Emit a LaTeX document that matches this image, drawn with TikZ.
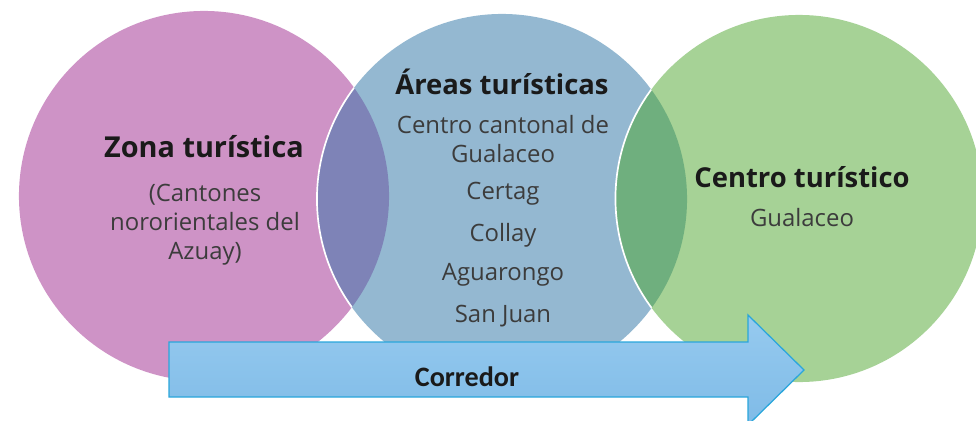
\documentclass[tikz,border=0pt]{standalone}
\usepackage{fontspec}
\setmainfont{Open Sans}
\newfontfamily\corrfont{Carlito}
\usetikzlibrary{positioning}
\definecolor{zonapink}{HTML}{CE93C6}
\definecolor{areablue}{HTML}{94B8D1}
\definecolor{centrogreen}{HTML}{A6D296}
\definecolor{lenspurple}{HTML}{7E83B7}
\definecolor{lensgreen}{HTML}{6FAF7E}
\definecolor{arrowtop}{HTML}{96CAEF}
\definecolor{arrowbot}{HTML}{7FBBE7}
\definecolor{arrowline}{HTML}{2AA6DB}
\definecolor{textdark}{HTML}{1A1A1A}

\begin{document}
\begin{tikzpicture}[
  x=0.025cm, y=-0.025cm,
  title/.style={font=\fontsize{19.5}{23}\selectfont\bfseries, text=textdark, inner sep=0pt},
  item/.style={font=\fontsize{17}{20.6}\selectfont, text=textdark!85, inner sep=0pt, align=center},
]
  \useasboundingbox (0,0) rectangle (976,421);
  \clip (0,0) rectangle (976,421);

  % circles
  \fill[zonapink]    (204,196) circle[radius=4.625cm];
  \fill[areablue]    (502,199) circle[radius=4.625cm];
  \fill[centrogreen] (799,198.5) circle[radius=4.5875cm];

  % overlaps
  \begin{scope}
    \clip (204,196) circle[radius=4.625cm];
    \fill[lenspurple] (502,199) circle[radius=4.625cm];
    \draw[white, line width=1.2pt] (502,199) circle[radius=4.625cm];
  \end{scope}
  \begin{scope}
    \clip (502,199) circle[radius=4.625cm];
    \fill[lensgreen] (799,198.5) circle[radius=4.5875cm];
    \draw[white, line width=1.2pt] (799,198.5) circle[radius=4.5875cm];
  \end{scope}

  % corridor arrow
  \coordinate (tip) at (804,370);
  \shade[top color=arrowtop, bottom color=arrowbot, draw=arrowline, line width=0.9pt]
    (169,342) -- (748,342) -- (748,315) -- (tip) -- (748,425) -- (748,397) -- (169,397) -- cycle;

  % texts
  \node[title, font=\fontsize{20.5}{23}\selectfont\bfseries] (zona) at (204,147) {Zona turística};
  \node[item]  (cantones) at (205,225) {(Cantones\\nororientales del\\Azuay)};

  \node[title] (areas) at (502,82) {Áreas turísticas};
  \node[item]  (cantonal) at (503,139) {Centro cantonal de\\Gualaceo};
  \node[item]  (certag) at (503,194) {Certag};
  \node[item]  (collay) at (503,235) {Collay};
  \node[item]  (aguarongo) at (503,275) {Aguarongo};
  \node[item]  (sanjuan) at (503,316) {San Juan};

  \node[title] (centro) at (802,177) {Centro turístico};
  \node[item]  (gualaceo) at (802,218) {Gualaceo};

  \node[title, font=\fontsize{20}{23}\selectfont\corrfont\bfseries] (corredor) at (467,377) {Corredor};
\end{tikzpicture}
\end{document}
